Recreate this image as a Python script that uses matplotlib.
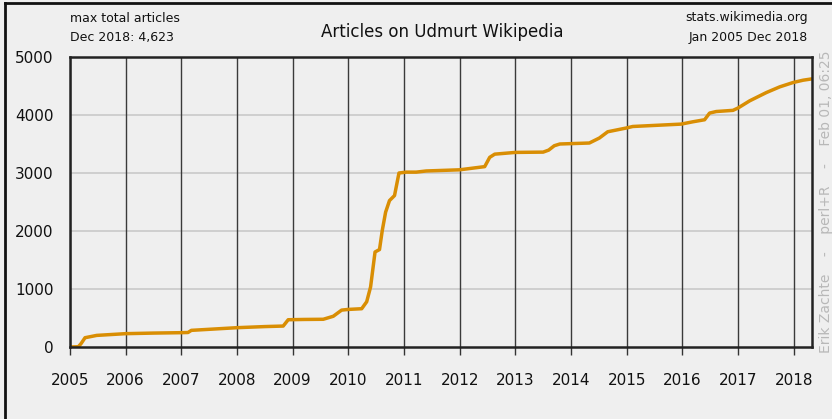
import matplotlib.pyplot as plt
from matplotlib.lines import Line2D

# monthly-ish readings of total article count (decimal year, articles)
years = [2005.00, 2005.15, 2005.20, 2005.27, 2005.48, 2006.00, 2006.50, 2007.00,
         2007.12, 2007.18, 2007.50, 2008.00, 2008.50, 2008.83, 2008.92, 2009.20,
         2009.55, 2009.73, 2009.88, 2010.00, 2010.24, 2010.33, 2010.40, 2010.48,
         2010.56, 2010.61, 2010.67, 2010.74, 2010.83, 2010.91, 2011.04, 2011.22,
         2011.40, 2012.00, 2012.45, 2012.54, 2012.63, 2013.00, 2013.50, 2013.60,
         2013.70, 2013.80, 2014.33, 2014.51, 2014.66, 2014.99, 2015.11, 2015.98,
         2016.19, 2016.40, 2016.49, 2016.61, 2016.91, 2017.00, 2017.21, 2017.51,
         2017.75, 2017.99, 2018.17, 2018.33]
articles = [0, 5, 60, 160, 200, 230, 240, 247,
            250, 287, 305, 333, 352, 361, 470, 475,
            478, 530, 636, 648, 660, 780, 1036, 1638,
            1680, 2010, 2325, 2525, 2611, 3000, 3015, 3015,
            3035, 3055, 3110, 3270, 3325, 3355, 3360, 3395,
            3470, 3500, 3517, 3603, 3711, 3775, 3802, 3843,
            3883, 3918, 4033, 4060, 4080, 4120, 4244, 4387,
            4485, 4560, 4600, 4623]

year_ticks = list(range(2005, 2019))
value_ticks = [0, 1000, 2000, 3000, 4000, 5000]

bg = '#efefef'
fig = plt.figure(figsize=(8.32, 4.19), dpi=100, facecolor=bg)
ax = fig.add_axes([70/832, 1-347/419, (812-70)/832, (347-57)/419])
ax.set_facecolor(bg)

for v in value_ticks[1:-1]:
    ax.axhline(v, color='#cfcfcf', lw=1.4, zorder=1)
for y in year_ticks:
    ax.axvline(y, color='#3a3a3a', lw=1.0, zorder=1)

ax.plot(years, articles, color='#d98e04', lw=2.5, zorder=3, solid_joinstyle='round')

ax.set_xlim(2005, 2018.33)
ax.set_ylim(0, 5000)
ax.set_xticks(year_ticks)
ax.set_xticklabels([str(y) for y in year_ticks])
ax.set_yticks(value_ticks)
ax.tick_params(axis='x', direction='out', length=6, width=1, color='#333333',
               labelsize=11, pad=13, labelcolor='#111111')
ax.tick_params(axis='y', length=0, labelsize=11, pad=12, labelcolor='#111111')
for s in ax.spines.values():
    s.set_color('#222222')
    s.set_linewidth(1.8)
    s.set_zorder(4)

fig.text(70/832, 1-18/419, 'max total articles', fontsize=9, va='center', ha='left', color='#111111')
fig.text(70/832, 1-38/419, 'Dec 2018: 4,623', fontsize=9, va='center', ha='left', color='#111111')
fig.text(808/832, 1-18/419, 'stats.wikimedia.org', fontsize=9, va='center', ha='right', color='#111111')
fig.text(808/832, 1-38/419, 'Jan 2005 Dec 2018', fontsize=9, va='center', ha='right', color='#111111')
fig.text(442/832, 1-32/419, 'Articles on Udmurt Wikipedia', fontsize=12, va='center', ha='center', color='#111111')
fig.text(826/832, 1-202/419, 'Erik Zachte    -    perl+R    -    Feb 01, 06:25', fontsize=10, rotation=90,
         va='center', ha='center', color='#b8b8b8')

# outer frame of the screenshot
fig.add_artist(Line2D([5/832, 5/832], [0, 1-3/419], transform=fig.transFigure, color='#111111', lw=2))
fig.add_artist(Line2D([5/832, 1], [1-3/419, 1-3/419], transform=fig.transFigure, color='#111111', lw=2))

fig.savefig('out.png', dpi=100, facecolor=bg)
